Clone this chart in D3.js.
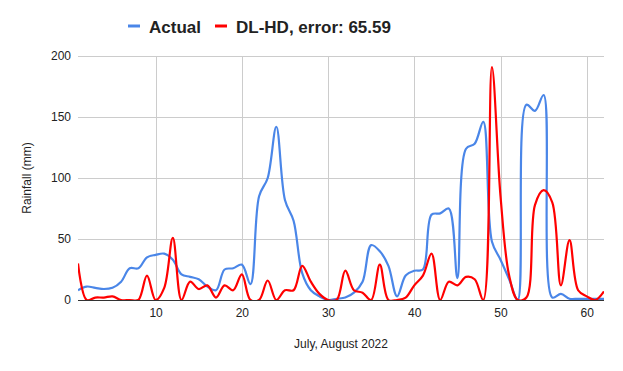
<!DOCTYPE html>
<html>
<head>
<meta charset="utf-8">
<script src="https://cdn.jsdelivr.net/npm/d3@7"></script>
<style>
  body { margin: 0; background: #fff; }
  svg { font-family: "Liberation Sans", Arial, sans-serif; }
</style>
</head>
<body>
<svg id="chart" width="623" height="371"></svg>
<script>
// day index 1..62
var days = d3.range(1, 63)

var actual = [8, 11, 10, 9, 10, 15, 26, 26, 35, 37,
  38, 33, 21, 19, 17, 11, 8, 25, 26, 29,
  13, 85, 100, 142, 82, 65, 22, 8, 3, 0,
  1, 2, 6, 15, 45, 40, 28, 3, 20, 24,
  25, 70, 71, 75, 18, 124, 128, 146, 48, 33,
  17, 0, 160, 155, 168, 2, 5, 1, 1, 1,
  1, 1]

var dlhd = [30, 0, 2, 2, 3, 0, 0, 0, 20, 0,
  10, 51, 0, 15, 9, 12, 2, 12, 8, 21,
  0, 0, 16, 0, 8, 8, 28, 15, 5, 0,
  0, 24, 8, 6, 0, 29, 0, 0, 2, 12,
  20, 38, 0, 15, 12, 19, 17, 0, 191, 85,
  20, 0, 2, 78, 90, 80, 12, 49, 8, 3,
  0, 7]

var yTicks = [0, 50, 100, 150, 200]
var xTicks = [10, 20, 30, 40, 50, 60]

var seriesNames = ["Actual", "DL-HD, error: 65.59"]
var seriesColors = ["#4a86e8", "#ff0000"]

var margin = {top: 56, left: 78, bottom: 71, right: 19}
var width = 623 - margin.left - margin.right
var height = 371 - margin.top - margin.bottom

var svg = d3.select("#chart")
var g = svg.append("g")
  .attr("transform", "translate(" + margin.left + "," + margin.top + ")")

var xScale = d3.scaleLinear().domain([1, 62]).range([0, width])
var yScale = d3.scaleLinear().domain([0, 200]).range([height, 0])

// gridlines
g.append("g")
  .selectAll("line.h")
  .data(yTicks.filter(function(d) { return d > 0 }))
  .join("line")
    .attr("x1", 0).attr("x2", width)
    .attr("y1", function(d) { return yScale(d) + 0.5 })
    .attr("y2", function(d) { return yScale(d) + 0.5 })
    .attr("stroke", "#cccccc")
g.append("g")
  .selectAll("line.v")
  .data(xTicks)
  .join("line")
    .attr("y1", 0).attr("y2", height)
    .attr("x1", function(d) { return Math.round(xScale(d)) + 0.5 })
    .attr("x2", function(d) { return Math.round(xScale(d)) + 0.5 })
    .attr("stroke", "#cccccc")

// axes (labels only)
var yAxis = g.append("g")
  .call(d3.axisLeft(yScale).tickValues(yTicks).tickSize(0).tickPadding(7))
yAxis.select(".domain").remove()
yAxis.selectAll("text").attr("font-size", 12).attr("fill", "#222").attr("font-family", "Liberation Sans, Arial, sans-serif")

var xAxis = g.append("g")
  .attr("transform", "translate(0," + height + ")")
  .call(d3.axisBottom(xScale).tickValues(xTicks).tickSize(0).tickPadding(8))
xAxis.select(".domain").remove()
xAxis.selectAll("text").attr("font-size", 12).attr("fill", "#222").attr("font-family", "Liberation Sans, Arial, sans-serif")

// clip
svg.append("defs").append("clipPath").attr("id", "clip")
  .append("rect").attr("x", 0).attr("y", -2).attr("width", width).attr("height", height + 2)

var line = d3.line()
  .x(function(d, i) { return xScale(days[i]) })
  .y(function(d) { return yScale(d) })
  .curve(d3.curveCatmullRom)

var lines = g.append("g").attr("clip-path", "url(#clip)")
lines.append("path")
  .datum(actual)
  .attr("fill", "none")
  .attr("stroke", seriesColors[0])
  .attr("stroke-width", 2.2)
  .attr("stroke-linejoin", "round")
  .attr("d", line)
lines.append("path")
  .datum(dlhd)
  .attr("fill", "none")
  .attr("stroke", seriesColors[1])
  .attr("stroke-width", 2.2)
  .attr("stroke-linejoin", "round")
  .attr("d", line)

// baseline
g.append("line")
  .attr("x1", 0).attr("x2", width)
  .attr("y1", yScale(0) + 0.5).attr("y2", yScale(0) + 0.5)
  .attr("stroke", "#333333")

// axis titles
svg.append("text")
  .attr("transform", "translate(" + [31, margin.top + height / 2] + ")rotate(-90)")
  .attr("text-anchor", "middle")
  .attr("font-size", 12)
  .attr("fill", "#222")
  .text("Rainfall (mm)")
svg.append("text")
  .attr("x", margin.left + width / 2)
  .attr("y", 348)
  .attr("text-anchor", "middle")
  .attr("font-size", 12)
  .attr("fill", "#222")
  .text("July, August 2022")

// legend
var legendX = [128, 215]
var legend = svg.append("g")
seriesNames.forEach(function(name, i) {
  legend.append("line")
    .attr("x1", legendX[i]).attr("x2", legendX[i] + 12)
    .attr("y1", 26).attr("y2", 26)
    .attr("stroke", seriesColors[i])
    .attr("stroke-width", 3)
  legend.append("text")
    .attr("x", legendX[i] + 21)
    .attr("y", 33)
    .attr("font-size", 17)
    .attr("font-weight", "bold")
    .attr("fill", "#222")
    .text(name)
})
</script>
</body>
</html>
